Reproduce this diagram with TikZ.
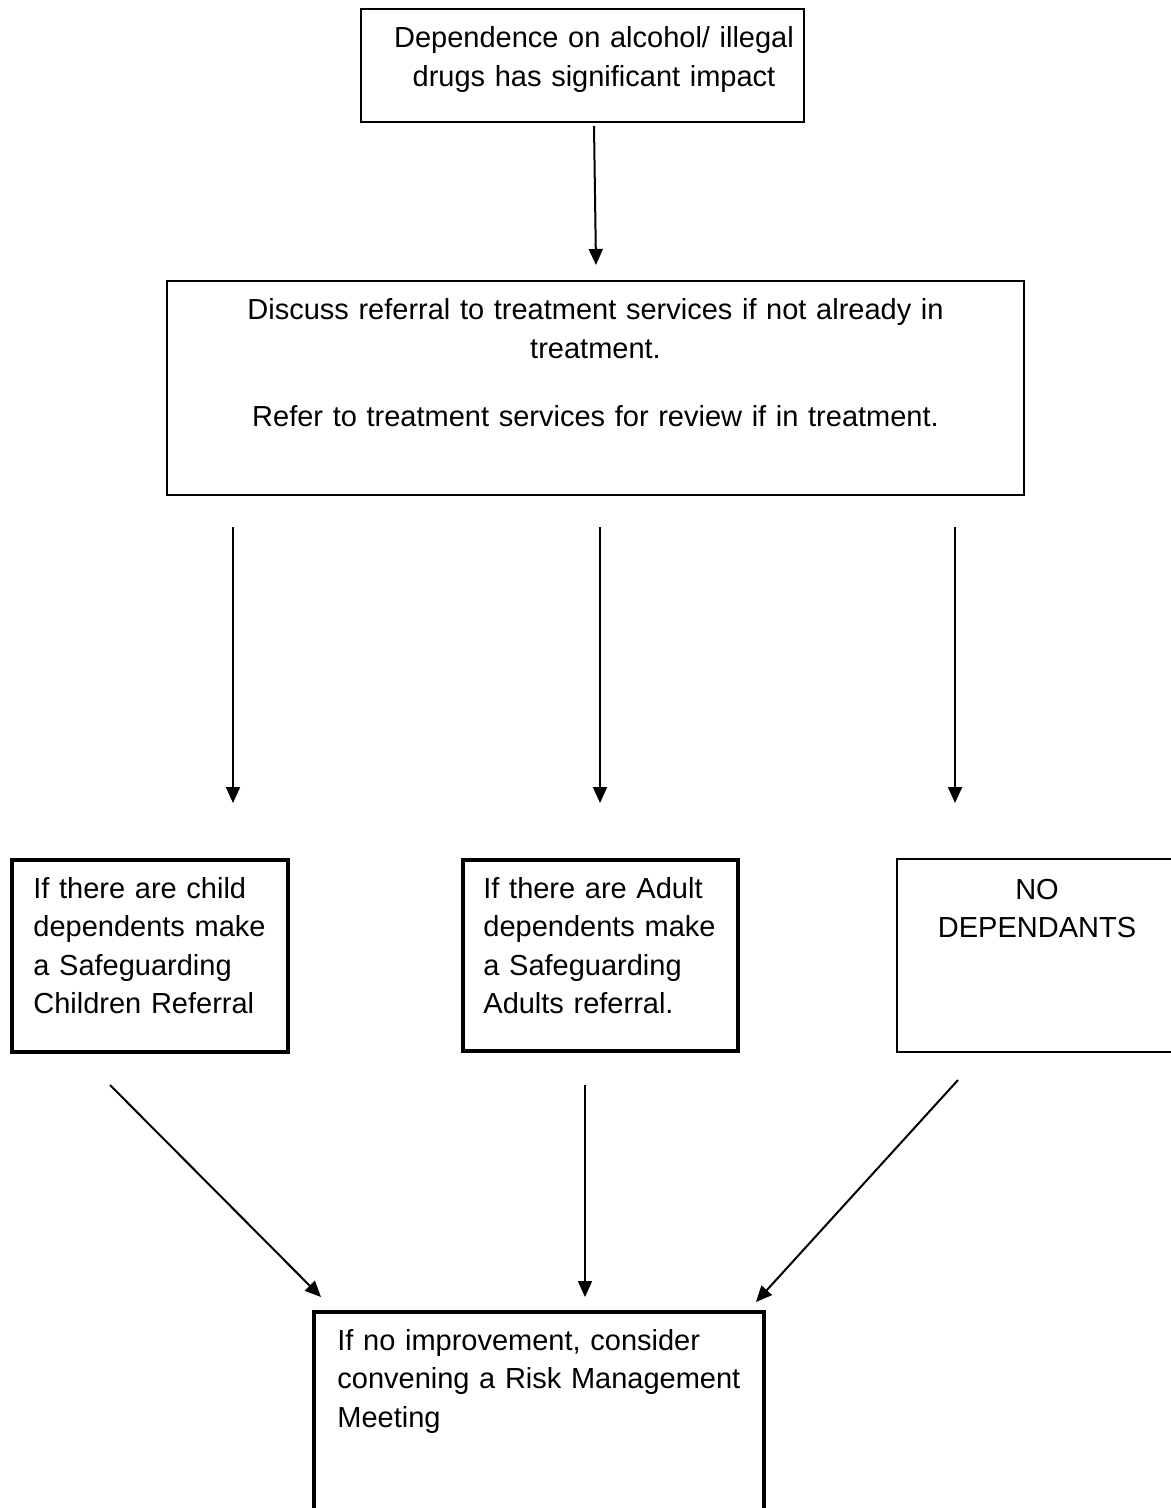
\documentclass[tikz,border=0pt]{standalone}
\usepackage{fontspec}
\setmainfont{Liberation Sans}
\usetikzlibrary{arrows.meta,fit}
\begin{document}
\begin{tikzpicture}[x=0.5pt,y=-0.5pt,
  thinbox/.style={draw, line width=0.8pt, inner sep=0pt},
  thickbox/.style={draw, line width=1.7pt, inner sep=0pt},
  lbl/.style={inner sep=0pt, font=\fontsize{14.5pt}{19.3pt}\selectfont},
  arr/.style={line width=1pt, -{Triangle[length=8pt,width=7pt]}}]
\useasboundingbox (0,0) rectangle (1171,1508);
\fill[white] (0,0) rectangle (1171,1508);
% boxes
\node[thinbox, fit={(361,9) (804,122)}] (b1) {};
\node[thinbox, fit={(167,281) (1024,495)}] (b2) {};
\node[thickbox, fit={(12,860) (288,1052)}] (b3) {};
\node[thickbox, fit={(463,860) (738,1051)}] (b4) {};
\node[thinbox, fit={(897,859) (1200,1052)}] (b5) {};
\node[thickbox, fit={(314,1312) (764,1540)}] (b6) {};
% texts
\node[lbl, text width=230pt, align=center, anchor=base] (t1) at (594,48)
  {Dependence on alcohol/ illegal\\drugs has significant impact};
\node[lbl, text width=440pt, align=center, anchor=base] (t2) at (595.5,320)
  {Discuss referral to treatment services if not already in\\treatment.\\[14.7pt]Refer to treatment services for review if in treatment.};
\node[lbl, text width=130pt, align=left, anchor=base west] (t3) at (33,898)
  {If there are child\\dependents make\\a Safeguarding\\Children Referral};
\node[lbl, text width=130pt, align=left, anchor=base west] (t4) at (483,898)
  {If there are Adult\\dependents make\\a Safeguarding\\Adults referral.};
\node[lbl, text width=130pt, align=center, anchor=base] (t5) at (1037,899)
  {NO\\DEPENDANTS};
\node[lbl, text width=220pt, align=left, anchor=base west] (t6) at (337,1350)
  {If no improvement, consider\\convening a Risk Management\\Meeting};
% arrow end points
\coordinate (a1s) at (594,126);  \coordinate (a1e) at (596,265);
\coordinate (a2s) at (233,527);  \coordinate (a2e) at (233,803);
\coordinate (a3s) at (600,527);  \coordinate (a3e) at (600,803);
\coordinate (a4s) at (955,527);  \coordinate (a4e) at (955,803);
\coordinate (a5s) at (110,1085); \coordinate (a5e) at (321,1297);
\coordinate (a6s) at (585,1085); \coordinate (a6e) at (585,1297);
\coordinate (a7s) at (958,1080); \coordinate (a7e) at (756,1302);
% connectors
\draw[arr] (a1s) -- (a1e);
\draw[arr] (a2s) -- (a2e);
\draw[arr] (a3s) -- (a3e);
\draw[arr] (a4s) -- (a4e);
\draw[arr] (a5s) -- (a5e);
\draw[arr] (a6s) -- (a6e);
\draw[arr] (a7s) -- (a7e);
\end{tikzpicture}
\end{document}
